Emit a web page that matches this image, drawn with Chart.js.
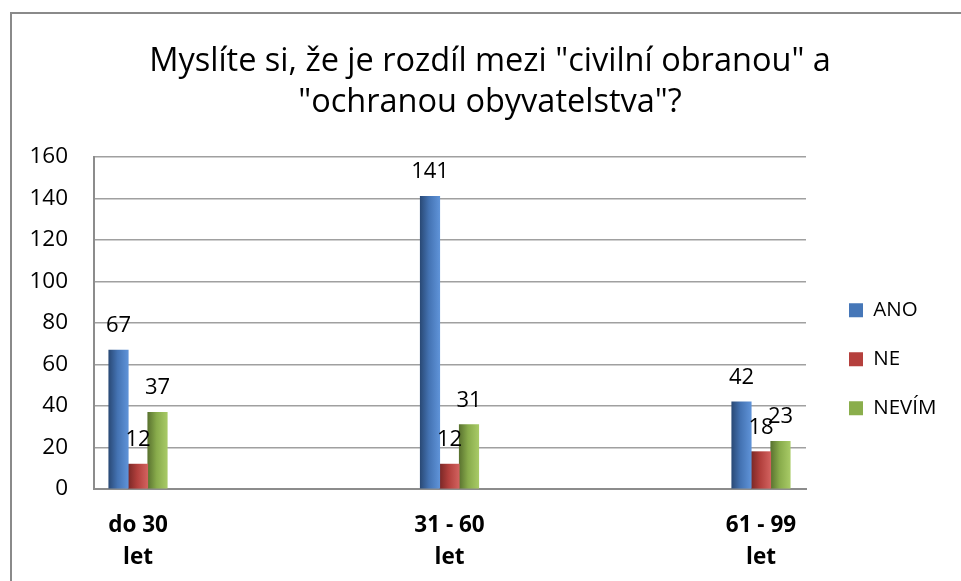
<!DOCTYPE html>
<html>
<head>
<meta charset="utf-8">
<script src="https://cdn.jsdelivr.net/npm/chart.js@4"></script>
<style>
html,body{margin:0;padding:0;background:#fff;overflow:hidden;}
#wrap{position:relative;width:961px;height:581px;}
#frame{position:absolute;left:10px;top:12px;width:949px;height:567px;border-left:2px solid #8a8a8a;border-top:2px solid #8a8a8a;pointer-events:none;}
canvas{position:absolute;left:0;top:0;}
</style>
</head>
<body>
<div id="wrap"><canvas id="c" width="961" height="581"></canvas><div id="frame"></div></div>
<script>
// ---- data ----
const categories = [['do 30', 'let'], ['31 - 60', 'let'], ['61 - 99', 'let']];
const seriesNames = ['ANO', 'NE', 'NEVÍM'];
const valuesAno = [67, 141, 42];
const valuesNe = [12, 12, 18];
const valuesNevim = [37, 31, 23];
const yTickMin = 0, yTickMax = 160, yTickStep = 20;
const titleLines = ['Myslíte si, že je rozdíl mezi "civilní obranou" a', '"ochranou obyvatelstva"?'];

// ---- styles ----
const FONT = 'Open Sans';
const baseColors = ['#4677b8', '#b5403d', '#8aae4c'];
const barStops = [
  [[0, '#2a4a77'], [0.45, '#4473b3'], [1, '#5f93d8']],
  [[0, '#7a2826'], [0.45, '#b13f3c'], [1, '#d2625f']],
  [[0, '#5a7330'], [0.45, '#88ab4b'], [1, '#a8ca66']]
];
const seriesValues = [valuesAno, valuesNe, valuesNevim];

const datasets = seriesNames.map((name, di) => ({
  label: name,
  data: seriesValues[di].map((v, i) => ({ x: i, y: v })),
  backgroundColor: (ctx) => baseColors[ctx.datasetIndex],
  borderWidth: 0,
  barThickness: 19.5
}));

const gradientPlugin = {
  id: 'barGradient',
  beforeDatasetsDraw(chart) {
    const ctx = chart.ctx;
    chart.data.datasets.forEach((ds, di) => {
      const meta = chart.getDatasetMeta(di);
      meta.data.forEach(el => {
        const l = el.x - el.width / 2, r = el.x + el.width / 2;
        const g = ctx.createLinearGradient(l, 0, r, 0);
        barStops[di].forEach(([o, c]) => g.addColorStop(o, c));
        if (Object.isFrozen(el.options)) el.options = Object.assign({}, el.options);
        el.options.backgroundColor = g;
      });
    });
  },
  afterDatasetsDraw(chart) {
    const ctx = chart.ctx;
    ctx.save();
    ctx.font = '22px "' + FONT + '"';
    ctx.fillStyle = '#000';
    ctx.textAlign = 'center';
    ctx.textBaseline = 'alphabetic';
    chart.data.datasets.forEach((ds, di) => {
      chart.getDatasetMeta(di).data.forEach((el, i) => {
        ctx.fillText(String(ds.data[i].y), el.x, el.y - 18);
      });
    });
    ctx.restore();
  },
  afterLayout(chart) {
    const lg = chart.legend;
    const ca = chart.chartArea;
    if (!lg) return;
    const w = lg.width, h = lg.height;
    lg.left = ca.right + 14.5; lg.right = lg.left + w;
    lg.top = 271.5; lg.bottom = lg.top + Math.max(h, 300);
  }
};

new Chart(document.getElementById('c'), {
  type: 'bar',
  data: { datasets },
  plugins: [gradientPlugin],
  options: {
    responsive: false,
    animation: false,
    events: [],
    layout: { padding: { left: 19, right: 0, top: 0, bottom: 0 } },
    plugins: {
      title: {
        display: true,
        text: titleLines,
        color: '#000',
        font: { family: FONT, size: 32.5, weight: 'normal', lineHeight: 41.7 / 32.5 },
        padding: { top: 40.5, bottom: 33.1 }
      },
      legend: {
        position: 'right',
        align: 'start',
        labels: {
          boxWidth: 14, boxHeight: 14, padding: 28.5,
          color: '#000',
          font: { family: FONT, size: 20.5 }
        }
      },
      tooltip: { enabled: false }
    },
    scales: {
      x: {
        type: 'linear',
        offset: false,
        min: -0.1413, max: 2.1445,
        grid: { display: false, drawTicks: false, offset: false },
        border: { display: true, color: '#8c8c8c', width: 2 },
        afterBuildTicks(s) { s.ticks = categories.map((c, i) => ({ value: i })); },
        ticks: {
          padding: 21, color: '#000', autoSkip: false, maxRotation: 0,
          font: { family: FONT, size: 22.5, weight: 'bold', lineHeight: 32 / 22.5 },
          callback: (v) => categories[v]
        },
        afterFit(s) { s.height = 92; }
      },
      y: {
        min: yTickMin, max: yTickMax,
        ticks: { stepSize: yTickStep, padding: 26, color: '#000', font: { family: FONT, size: 22.5 } },
        grid: { color: '#a0a0a0', lineWidth: 1.5, drawTicks: false },
        border: { display: true, color: '#8c8c8c', width: 2 },
        afterFit(s) { s.width = 75; }
      },
      y2: {
        type: 'linear',
        position: 'right',
        display: true,
        grid: { display: false, drawTicks: false },
        border: { display: false },
        ticks: { display: false },
        afterFit(s) { s.width = Math.max(0, 155 - (s.chart.legend ? s.chart.legend.width : 0)); }
      }
    }
  }
});
</script>
</body>
</html>
